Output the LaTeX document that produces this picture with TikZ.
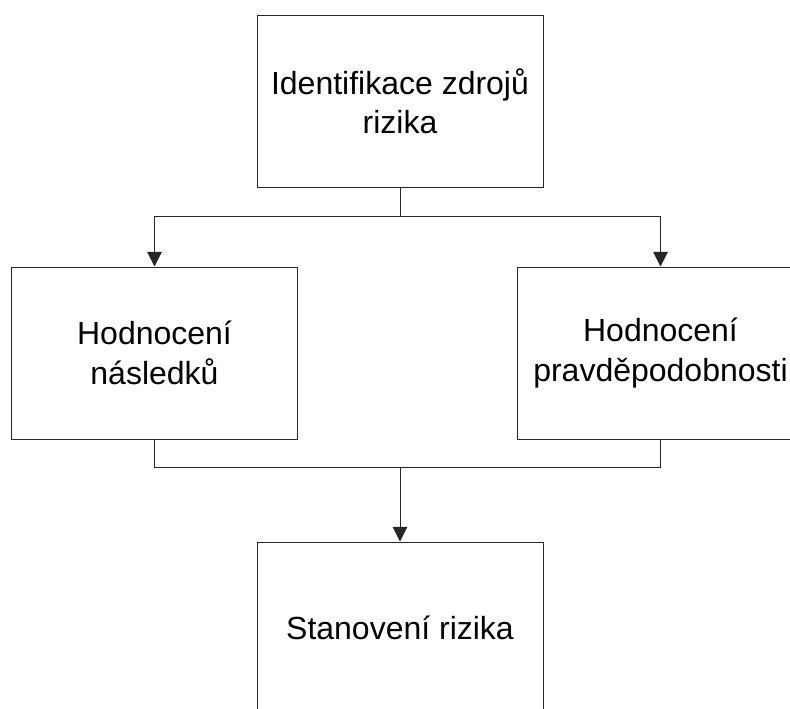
\documentclass[tikz,border=0pt]{standalone}
\usepackage{fontspec}
\setmainfont{Liberation Sans}
\usetikzlibrary{arrows.meta}
\begin{document}
\begin{tikzpicture}[x=0.75pt,y=-0.75pt,
  box/.style={draw=black!85,line width=0.75pt,rectangle,align=center,
    font=\fontsize{24}{29.5}\selectfont,inner sep=0pt},
  wide/.style={minimum width=214.5pt,minimum height=129pt},
  conn/.style={draw=black!85,line width=0.75pt},
  arr/.style={conn,-{Triangle[length=11pt,width=11pt]}}]
\useasboundingbox (0,0) rectangle (790,708);
\begin{scope}
\clip (0,0) rectangle (790,708);
\node[box,wide] (top) at (400,101) {Identifikace zdrojů\\rizika};
\node[box,wide] (left) at (154.5,353) {Hodnocení\\následků};
\node[box,wide] (right) at (660.5,353) {Hodnocení\\pravděpodobnosti};
\node[box,wide] (bot) at (400,628) {Stanovení rizika};
\coordinate (j1) at (400,216);
\coordinate (j2) at (400,467);
\draw[conn] (top.south) -- (j1);
\draw[arr] (j1) -| (left.north);
\draw[arr] (j1) -| (right.north);
\draw[conn] (left.south) |- (j2);
\draw[conn] (right.south) |- (j2);
\draw[arr] (j2) -- (bot.north);
\end{scope}
\end{tikzpicture}
\end{document}
